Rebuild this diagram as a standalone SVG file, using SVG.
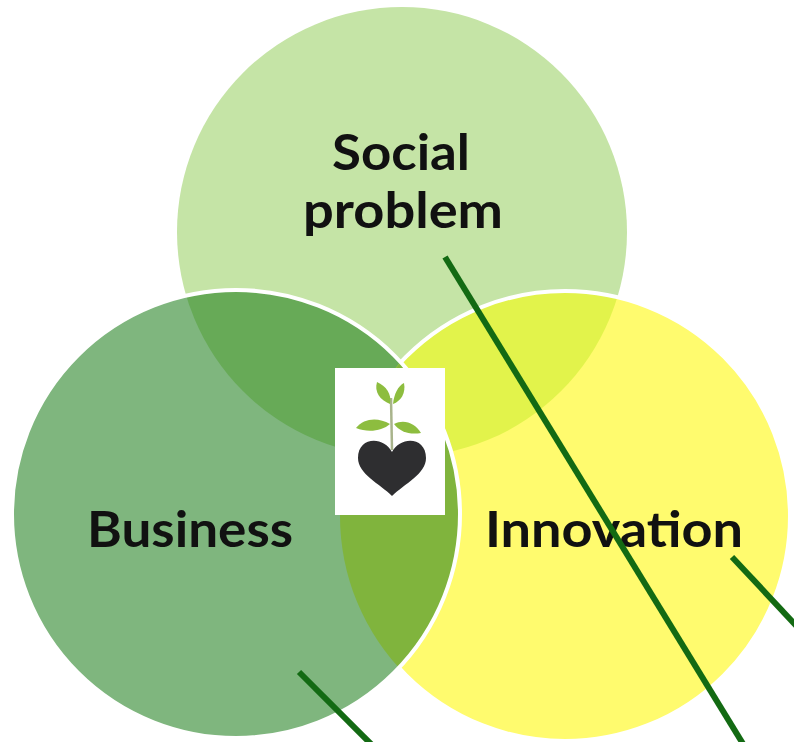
<svg xmlns="http://www.w3.org/2000/svg" width="794" height="742" viewBox="0 0 794 742">
<style>
.lbl{font-family:"Lato","Open Sans","Liberation Sans",sans-serif;font-weight:bold;font-size:50px;fill:#111}
.ring{fill:none;stroke:#ffffff;stroke-width:4}
.conn{stroke:#136a13;stroke-width:6;stroke-linecap:butt;fill:none}
.leaf{fill:#8dbd3f}
</style>
<defs>
<clipPath id="clipB"><circle cx="236" cy="514" r="224"/></clipPath>
<clipPath id="clipI"><circle cx="565" cy="516" r="225"/></clipPath>
<mask id="noB"><rect x="0" y="0" width="794" height="742" fill="#fff"/><circle cx="236" cy="514" r="224" fill="#000"/></mask>
</defs>
<rect x="0" y="0" width="794" height="742" fill="#ffffff"/>
<g id="social">
<circle cx="402" cy="232" r="225" fill="#c5e4a6"/>
</g>
<g id="innovation">
<circle cx="565" cy="516" r="225" fill="#fffb6e"/>
</g>
<g id="business">
<circle cx="236" cy="514" r="224" fill="#7fb67e"/>
</g>
<g id="overlaps">
<circle cx="402" cy="232" r="225" fill="#67aa57" clip-path="url(#clipB)"/>
<circle cx="402" cy="232" r="225" fill="#e2f34b" clip-path="url(#clipI)"/>
<circle cx="236" cy="514" r="224" fill="#80b43d" clip-path="url(#clipI)"/>
<circle cx="565" cy="516" r="225" class="ring" mask="url(#noB)"/>
<circle cx="236" cy="514" r="224" class="ring"/>
</g>
<g id="center-picture">
<rect x="335" y="368" width="110" height="147" fill="#ffffff"/>
<line x1="392" y1="450" x2="391" y2="398" stroke="#a9b48c" stroke-width="2.5"/>
<path class="leaf" d="M390,404 C380,400 374,392 377,382 C386,386 392,394 390,404 Z"/>
<path class="leaf" d="M393,404 C394,394 398,386 404,383 C406,393 401,401 393,404 Z"/>
<path class="leaf" d="M390,424 C378,417 364,418 356,428 C368,433 382,431 390,424 Z" fill="#7fb24a"/>
<path class="leaf" d="M394,424 C404,419 415,423 421,433 C410,435 400,432 394,424 Z" fill="#7fb24a"/>
<path d="M392,452 C384,436 358,436 358,458 C358,474 380,484 392,496 C404,484 426,474 426,458 C426,436 400,436 392,452 Z" fill="#2e2e30"/>
</g>
<g id="labels">
<text class="lbl" x="332" y="170" textLength="138" lengthAdjust="spacingAndGlyphs">Social</text>
<text class="lbl" x="303" y="228" textLength="200" lengthAdjust="spacingAndGlyphs">problem</text>
<text class="lbl" x="87" y="547" textLength="206" lengthAdjust="spacingAndGlyphs">Business</text>
<text class="lbl" x="485" y="547" textLength="258" lengthAdjust="spacingAndGlyphs">Innovation</text>
</g>
<g id="connectors">
<line class="conn" x1="445" y1="257" x2="748" y2="752"/>
<line class="conn" x1="732" y1="557" x2="804" y2="634"/>
<line class="conn" x1="299" y1="672" x2="377" y2="750"/>
</g>
</svg>
